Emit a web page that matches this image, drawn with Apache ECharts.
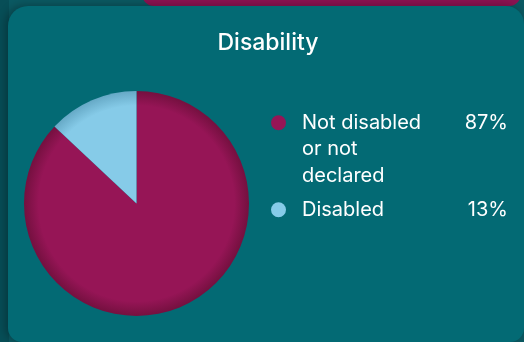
<!DOCTYPE html>
<html>
<head>
<meta charset="utf-8">
<script src="https://cdn.jsdelivr.net/npm/echarts@6/dist/echarts.min.js"></script>
<style>
  html, body { margin: 0; padding: 0; background: #0b5962; }
  #chart { width: 524px; height: 342px; }
</style>
</head>
<body>
<div id="chart"></div>
<script>
// Disability breakdown (percent of total)
const categories = ['Not disabled or not declared', 'Disabled'];
const values = [87, 13];
const legendLines = [['Not disabled', 'or not', 'declared'], ['Disabled']];
const sliceColors = ['#961556', '#86cbe8'];
const rimColors = ['#74103f', '#66a9c6'];

const CX = 136.5, CY = 203.5, R = 112.5;
const font = 'Inter, "Noto Sans", sans-serif';

function rimGradient(i) {
  return {
    type: 'radial', x: CX, y: CY, r: R, global: true,
    colorStops: [
      { offset: 0, color: sliceColors[i] },
      { offset: 0.87, color: sliceColors[i] },
      { offset: 1, color: rimColors[i] }
    ]
  };
}

const LINE = 26.5;
// one legend block per category; the dot sits beside the first line of a wrapped name
function legendFor(i, top) {
  const lines = legendLines[i];
  const padTop = (lines.length - 1) * LINE;
  return {
    orient: 'vertical',
    left: 271,
    top: top,
    padding: 0,
    icon: 'circle',
    itemWidth: 15,
    itemHeight: 15,
    selectedMode: false,
    data: [{ name: categories[i], itemStyle: { color: sliceColors[i] } }],
    formatter: function () {
      const first = '{n|' + lines[0] + '}{p|' + values[i] + '%}';
      const rest = lines.slice(1).map(function (t) { return '{n|' + t + '}'; });
      return [first].concat(rest).join('\n');
    },
    textStyle: {
      color: '#ffffff',
      fontFamily: font,
      fontSize: 20,
      padding: [padTop, 0, 0, 11],
      rich: {
        n: { width: 156, fontSize: 20, lineHeight: LINE, color: '#ffffff', fontFamily: font },
        p: { width: 50, align: 'right', fontSize: 20, lineHeight: LINE, color: '#ffffff', fontFamily: font }
      }
    }
  };
}

const chart = echarts.init(document.getElementById('chart'), null, { renderer: 'canvas' });
chart.setOption({
  backgroundColor: '#0b5962',
  animation: false,
  graphic: [
    { type: 'rect', z: -10, shape: { x: 0, y: 0, width: 9, height: 342 }, style: { fill: '#074e57' } },
    { type: 'rect', z: -9, shape: { x: 142, y: -30, width: 379, height: 36, r: 12 }, style: { fill: '#8c1352' } },
    {
      type: 'rect', z: -8,
      shape: { x: 8, y: 6, width: 516, height: 336, r: [20, 18, 14, 14] },
      style: { fill: '#036a74', shadowBlur: 8, shadowOffsetX: -3, shadowOffsetY: -1, shadowColor: 'rgba(0,0,0,0.28)' }
    }
  ],
  title: {
    text: 'Disability',
    left: 268,
    textAlign: 'center',
    top: 32,
    padding: 0,
    textStyle: { color: '#ffffff', fontFamily: font, fontSize: 23, fontWeight: 500 }
  },
  legend: [legendFor(0, 112.75), legendFor(1, 199.75)],
  series: [{
    type: 'pie',
    center: [CX, CY],
    radius: R,
    startAngle: 90,
    clockwise: true,
    label: { show: false },
    labelLine: { show: false },
    emphasis: { disabled: true },
    data: categories.map(function (name, i) {
      return { name: name, value: values[i], itemStyle: { color: rimGradient(i) } };
    })
  }]
});
</script>
</body>
</html>
